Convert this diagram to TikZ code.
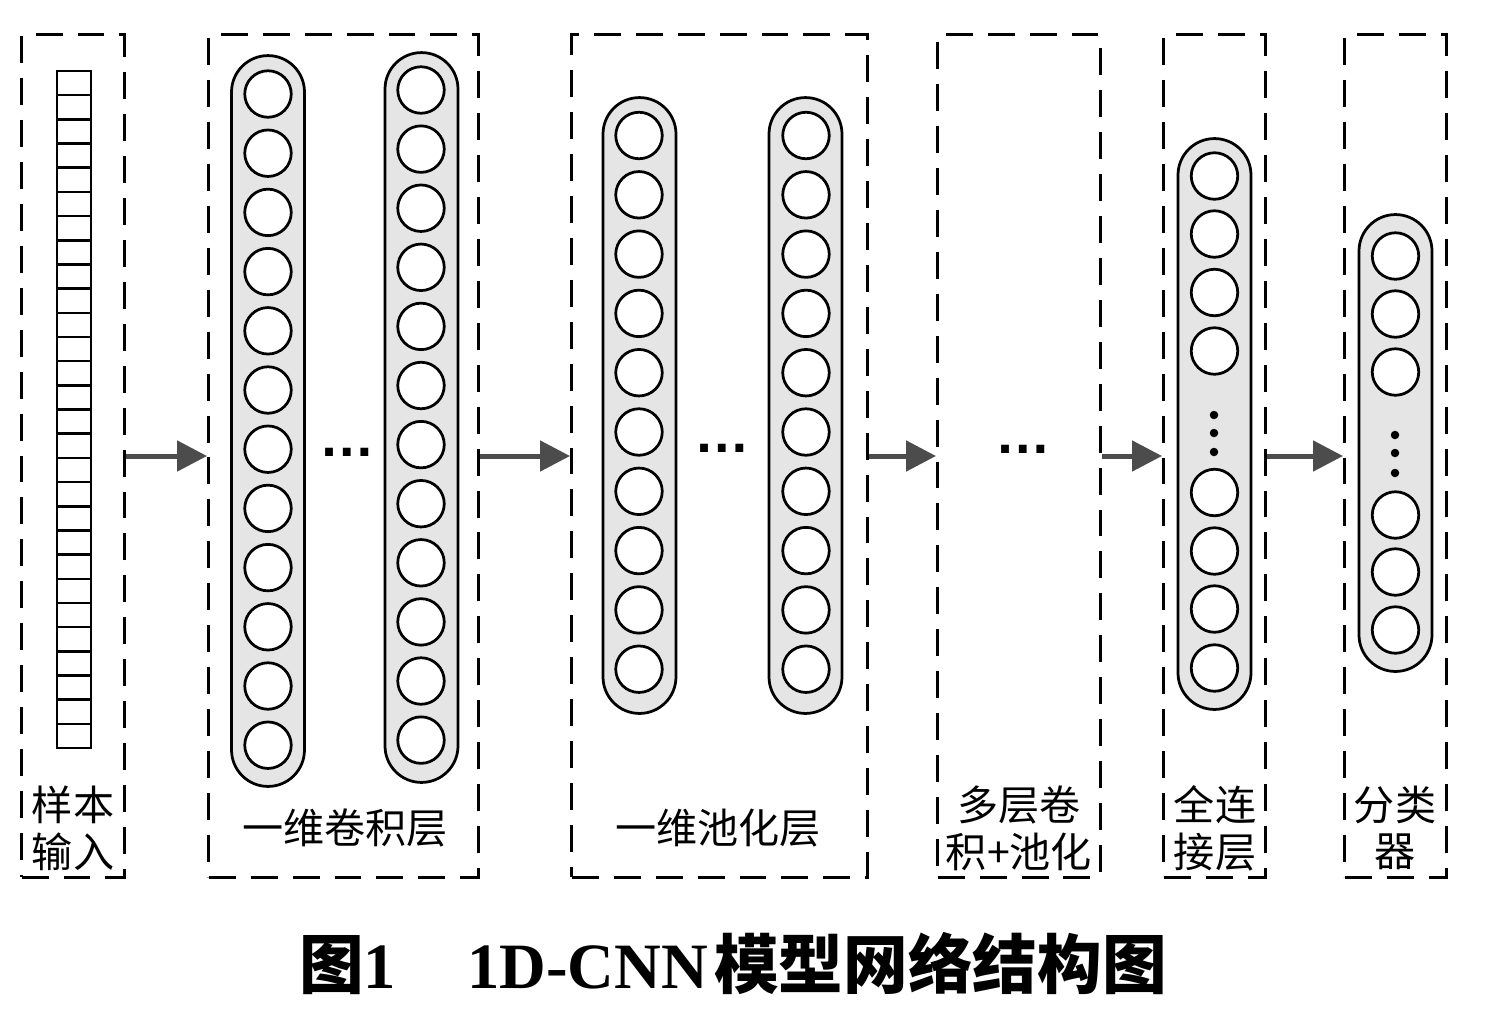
\documentclass[tikz,border=0pt]{standalone}
\usepackage{fontspec}
\setmainfont{Liberation Serif}
\newfontfamily\cjk{Noto Sans CJK SC}
\newfontfamily\dotfont{Liberation Sans}
\usetikzlibrary{arrows.meta}

\begin{document}
\begin{tikzpicture}[x=0.02cm, y=-0.02cm,
    laybox/.style={draw, line width=0.06cm, dash pattern=on 0.54cm off 0.3cm, minimum height=16.86cm, inner sep=0pt},
    layer/.style={draw, line width=0.055cm, fill=black!10, rounded corners=0.73cm, minimum width=1.46cm, inner sep=0pt},
    neuron/.style={circle, draw, line width=0.055cm, fill=white, minimum size=0.93cm, inner sep=0pt},
    cell/.style={draw, line width=0.05cm, minimum width=0.68cm, minimum height=0.4836cm, inner sep=0pt},
    vdot/.style={circle, fill=black, minimum size=0.17cm, inner sep=0pt},
    hdots/.style={font=\dotfont\bfseries\fontsize{31.6}{32}\selectfont, inner sep=0pt, anchor=base},
    flow/.style={-{Triangle[length=0.6cm, width=0.6cm]}, line width=0.1cm, color=black!70},
    lbl/.style={font=\cjk\fontsize{23.4}{26.6}\selectfont, align=center, inner sep=0pt}]
    \useasboundingbox (0,0) rectangle (1492,1015);

    % dashed frames of the stages
    \node[laybox, minimum width=2.06cm] (inbox) at (73,456) {};
    \node[laybox, minimum width=5.4cm] (convbox) at (343.5,456) {};
    \node[laybox, minimum width=5.92cm] (poolbox) at (719.5,456) {};
    \node[laybox, minimum width=3.26cm] (multibox) at (1019,456) {};
    \node[laybox, minimum width=2.04cm] (fcbox) at (1214.5,456) {};
    \node[laybox, minimum width=2.04cm] (clsbox) at (1395.5,456) {};

    % sample input
    \foreach \i in {0,...,27}
        \node[cell] (in-\i) at (74, 83.1+24.18*\i) {};

    % convolution layer
    \node[layer, minimum height=14.62cm] (conva) at (268,421) {};
    \node[layer, minimum height=14.6cm] (convb) at (421.5,417.5) {};
    \foreach \i in {0,...,11} {
        \node[neuron] (ca-\i) at (268, 94+59.2*\i) {};
        \node[neuron] (cb-\i) at (421, 90+59.1*\i) {};
    }
    \node[hdots] (convdots) at (347.5,456) {…};

    % pooling layer
    \node[layer, minimum height=12.32cm] (poola) at (639.5,405.5) {};
    \node[layer, minimum height=12.32cm] (poolb) at (805.5,405.5) {};
    \foreach \i in {0,...,9} {
        \node[neuron] (pa-\i) at (639, 135.5+59.3*\i) {};
        \node[neuron] (pb-\i) at (806, 135.5+59.3*\i) {};
    }
    \node[hdots] (pooldots) at (722,452) {…};

    % more layers
    \node[hdots] (multidots) at (1023,453) {…};

    % fully connected
    \node[layer, minimum height=11.42cm] (fc) at (1214.5,424) {};
    \foreach \y [count=\k] in {176,234,292.5,351,492.5,551,609,668}
        \node[neuron] (fc-\k) at (1214.5,\y) {};
    \foreach \y [count=\k] in {415,433,452}
        \node[vdot] (fcdot-\k) at (1214,\y) {};

    % classifier
    \node[layer, minimum height=9.14cm] (cls) at (1395.5,443) {};
    \foreach \y [count=\k] in {256,314,372,515,572,630}
        \node[neuron] (cls-\k) at (1395.5,\y) {};
    \foreach \y [count=\k] in {435,453,473}
        \node[vdot] (clsdot-\k) at (1395,\y) {};

    % arrows between stages
    \draw[flow] (inbox.east) -- (convbox.west);
    \draw[flow] (convbox.east) -- (poolbox.west);
    \draw[flow] (poolbox.east) -- (multibox.west);
    \draw[flow] (multibox.east) -- (fcbox.west);
    \draw[flow] (fcbox.east) -- (clsbox.west);

    % labels
    \node[lbl] (inlbl) at (73,828) {样本\\输入};
    \node[lbl] (convlbl) at (345,828) {一维卷积层};
    \node[lbl] (poollbl) at (718,828) {一维池化层};
    \node[lbl] (multilbl) at (1019,828) {多层卷\\积+池化};
    \node[lbl] (fclbl) at (1215,828) {全连\\接层};
    \node[lbl] (clslbl) at (1395,828) {分类\\器};

    \node[font=\fontsize{36.8}{40}\selectfont\bfseries, inner sep=0pt] (caption) at (733,963)
        {{\cjk 图}1\hspace{1.1em}1D-CNN\hspace{0.1em}{\cjk 模型网络结构图}};
\end{tikzpicture}
\end{document}
